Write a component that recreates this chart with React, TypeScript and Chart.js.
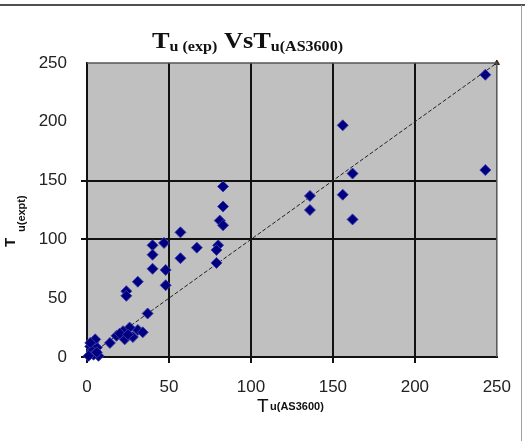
import React, { useEffect, useRef } from "react";
import { Chart, registerables } from "chart.js";

Chart.register(...registerables);

// Experimental vs AS3600 predicted values
const predictedX: number[] = [
  243, 156, 162, 243, 136, 136, 156, 162,
  83, 83, 81, 83, 57, 40, 47, 67, 80, 79, 40, 57, 79, 40, 48, 31, 48, 24, 24,
  37,
  31, 34, 26, 22, 18, 14, 23, 28, 20, 25,
  4, 2, 6, 3, 7, 4, 5, 2, 1, 6,
];
const experimentalY: number[] = [
  240, 197, 156, 159, 137, 125, 138, 117,
  145, 128, 116, 112, 106, 95, 97, 93, 95, 91, 87, 84, 80, 75, 74, 64, 61, 56, 52,
  37,
  23, 21, 25, 22, 18, 12, 15, 17, 20, 19,
  13, 9, 8, 5, 1, 2, 15, 12, 1, 4,
];
const lineX: number[] = [0, 250];
const lineY: number[] = [0, 250];
const axisTicks: number[] = [0, 50, 100, 150, 200, 250];
const yGridValues: number[] = [100, 150];
const yTickMarkValues: number[] = [0, 100, 150];
const xGridValues: number[] = [50, 100, 150, 200];
const xTickMarkValues: number[] = [0, 50, 100, 150, 200];

const titleParts = [
  { text: "T", big: true },
  { text: "u (exp)", big: false },
  { text: " VsT", big: true },
  { text: "u(AS3600)", big: false },
];

const decorPlugin = {
  id: "decor",
  beforeDraw(chart: any) {
    const { ctx, chartArea } = chart;
    ctx.save();
    ctx.fillStyle = "#ffffff";
    ctx.fillRect(0, 0, chart.width, chart.height);
    ctx.fillStyle = "#c0c0c0";
    ctx.fillRect(chartArea.left, chartArea.top, chartArea.right - chartArea.left, chartArea.bottom - chartArea.top);
    ctx.restore();
  },
  afterDraw(chart: any) {
    const { ctx, chartArea } = chart;
    ctx.save();
    // top and right plot borders
    ctx.strokeStyle = "#555555";
    ctx.lineWidth = 1.5;
    ctx.beginPath();
    ctx.moveTo(chartArea.left, chartArea.top);
    ctx.lineTo(chartArea.right, chartArea.top);
    ctx.lineTo(chartArea.right, chartArea.bottom);
    ctx.stroke();
    // frame lines
    ctx.fillStyle = "#505050";
    ctx.fillRect(0, 4, chart.width, 2);
    ctx.fillStyle = "#a0a0a0";
    ctx.fillRect(521, 5, 1, chart.height - 5);

    // title
    const bigFont = "bold 23px 'Liberation Serif', 'DejaVu Serif', serif";
    const subFont = "bold 14px 'Liberation Serif', 'DejaVu Serif', serif";
    let total = 0;
    const widths: number[] = [];
    for (const p of titleParts) {
      ctx.font = p.big ? bigFont : subFont;
      const w = ctx.measureText(p.text).width;
      widths.push(w);
      total += w;
    }
    const targetW = 191;
    ctx.translate(152, 48);
    ctx.scale(targetW / total, 1);
    ctx.fillStyle = "#111111";
    ctx.textBaseline = "alphabetic";
    ctx.textAlign = "left";
    let x = 0;
    titleParts.forEach((p, i) => {
      ctx.font = p.big ? bigFont : subFont;
      ctx.fillText(p.text, x, p.big ? 0 : 3);
      x += widths[i];
    });
    ctx.restore();

    // x axis title
    ctx.save();
    ctx.fillStyle = "#111111";
    ctx.textAlign = "left";
    ctx.textBaseline = "alphabetic";
    ctx.font = "19px 'Liberation Sans', Arial, sans-serif";
    ctx.fillText("T", 257, 412);
    ctx.font = "bold 11px 'Liberation Sans', Arial, sans-serif";
    ctx.fillText("u(AS3600)", 270, 410);
    ctx.restore();

    // y axis title
    ctx.save();
    ctx.fillStyle = "#111111";
    ctx.translate(15, 247);
    ctx.rotate(-Math.PI / 2);
    ctx.textAlign = "left";
    ctx.textBaseline = "alphabetic";
    ctx.font = "bold 15px 'Liberation Sans', Arial, sans-serif";
    ctx.fillText("T", 0, 0);
    ctx.font = "bold 11px 'Liberation Sans', Arial, sans-serif";
    ctx.fillText("u(expt)", 15, 10);
    ctx.restore();
  },
};

export default function App() {
  const canvasRef = useRef<HTMLCanvasElement | null>(null);

  useEffect(() => {
    if (!canvasRef.current) return;
    const points = predictedX.map((x, i) => ({ x, y: experimentalY[i] }));
    const linePts = lineX.map((x, i) => ({ x, y: lineY[i] }));
    const chart = new Chart(canvasRef.current, {
      type: "scatter",
      data: {
        datasets: [
          {
            label: "Equality",
            data: linePts,
            showLine: true,
            borderColor: "#222222",
            borderWidth: 1,
            borderDash: [4, 2],
            pointRadius: [0, 3],
            pointStyle: "triangle",
            pointBackgroundColor: "#3a2010",
            pointBorderColor: "#3a2010",
            clip: false,
            order: 2,
          } as any,
          {
            label: "Tests",
            data: points,
            pointStyle: "rectRot",
            pointRadius: 5.5,
            backgroundColor: "#000080",
            borderColor: "rgba(60,60,170,0.9)",
            borderWidth: 1,
            clip: false,
            order: 1,
          } as any,
        ],
      },
      options: {
        responsive: false,
        animation: false,
        events: [],
        layout: { padding: { left: 0, top: 63, right: 25, bottom: 0 } },
        plugins: {
          legend: { display: false },
          tooltip: { enabled: false },
          title: { display: false },
        },
        scales: {
          x: {
            type: "linear",
            min: 0,
            max: 250,
            afterBuildTicks: (scale: any) => {
              scale.ticks = axisTicks.map((v) => ({ value: v }));
            },
            afterFit: (scale: any) => {
              scale.height = 84;
            },
            ticks: {
              font: { family: "'Liberation Sans', Arial, sans-serif", size: 17 },
              color: "#222222",
              padding: 14,
              maxRotation: 0,
              autoSkip: false,
            },
            grid: {
              color: (c: any) => (xGridValues.includes(c.tick?.value) ? "#111111" : "rgba(0,0,0,0)"),
              tickColor: (c: any) => (xTickMarkValues.includes(c.tick?.value) ? "#111111" : "rgba(0,0,0,0)"),
              lineWidth: 2,
              tickLength: 6,
              drawOnChartArea: true,
            },
            border: { display: true, color: "#111111", width: 2 },
          },
          y: {
            type: "linear",
            min: 0,
            max: 250,
            afterBuildTicks: (scale: any) => {
              scale.ticks = axisTicks.map((v) => ({ value: v }));
            },
            afterFit: (scale: any) => {
              scale.width = 87;
            },
            ticks: {
              font: { family: "'Liberation Sans', Arial, sans-serif", size: 17 },
              color: "#222222",
              padding: 14,
              autoSkip: false,
            },
            grid: {
              color: (c: any) => (yGridValues.includes(c.tick?.value) ? "#111111" : "rgba(0,0,0,0)"),
              tickColor: (c: any) => (yTickMarkValues.includes(c.tick?.value) ? "#111111" : "rgba(0,0,0,0)"),
              lineWidth: 2,
              tickLength: 6,
            },
            border: { display: true, color: "#111111", width: 2 },
          },
        },
      },
      plugins: [decorPlugin],
    } as any);
    return () => chart.destroy();
  }, []);

  return (
    <div style={{ position: "fixed", left: 0, top: 0, width: 525, height: 441, background: "#fff" }}>
      <canvas ref={canvasRef} width={525} height={441} style={{ display: "block", width: 525, height: 441 }} />
    </div>
  );
}
